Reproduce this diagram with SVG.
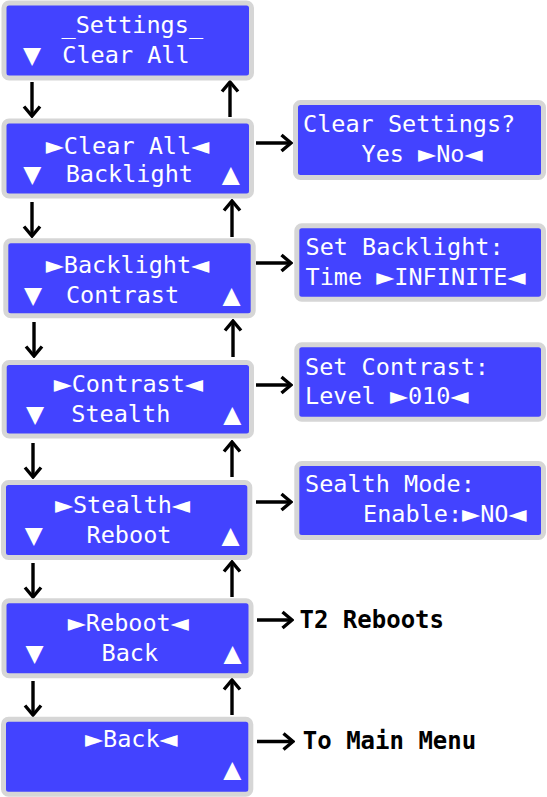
<svg xmlns="http://www.w3.org/2000/svg" width="547" height="797" viewBox="0 0 547 797">
<style>
.box{fill:#4343ff;stroke:#d6d6d6;stroke-width:5}
.lcd{font-family:"DejaVu Sans Mono","Liberation Mono",monospace;font-size:23.5px;fill:#ffffff}
.t{font-family:"DejaVu Sans","Liberation Sans",sans-serif}
.m{text-anchor:middle}
.lbl{font-family:"DejaVu Sans Mono","Liberation Mono",monospace;font-size:24px;font-weight:bold;fill:#000000}
.c{stroke:#000;stroke-width:3.4;fill:none}
</style>
<defs>
<marker id="ah" markerUnits="userSpaceOnUse" viewBox="-12 -10 14 20" refX="0" refY="0" markerWidth="14" markerHeight="20" orient="auto">
<path d="M-9.5,-8 L0,0 L-9.5,8" fill="none" stroke="#000" stroke-width="3.4"/>
</marker>
</defs>
<g id="connectors">
<line class="c" x1="32" y1="82" x2="32" y2="116" marker-end="url(#ah)"/>
<line class="c" x1="230" y1="117" x2="230" y2="82" marker-end="url(#ah)"/>
<line class="c" x1="32" y1="202" x2="32" y2="236" marker-end="url(#ah)"/>
<line class="c" x1="232" y1="237" x2="232" y2="201" marker-end="url(#ah)"/>
<line class="c" x1="34" y1="322" x2="34" y2="356" marker-end="url(#ah)"/>
<line class="c" x1="233" y1="357" x2="233" y2="321" marker-end="url(#ah)"/>
<line class="c" x1="33" y1="443" x2="33" y2="477" marker-end="url(#ah)"/>
<line class="c" x1="232" y1="477" x2="232" y2="442" marker-end="url(#ah)"/>
<line class="c" x1="33" y1="563" x2="33" y2="597" marker-end="url(#ah)"/>
<line class="c" x1="232" y1="597" x2="232" y2="562" marker-end="url(#ah)"/>
<line class="c" x1="33" y1="681" x2="33" y2="715" marker-end="url(#ah)"/>
<line class="c" x1="232" y1="715" x2="232" y2="680" marker-end="url(#ah)"/>
<line class="c" x1="256" y1="143" x2="291" y2="143" marker-end="url(#ah)"/>
<line class="c" x1="256" y1="263" x2="291" y2="263" marker-end="url(#ah)"/>
<line class="c" x1="256" y1="385" x2="291" y2="385" marker-end="url(#ah)"/>
<line class="c" x1="256" y1="502" x2="291" y2="502" marker-end="url(#ah)"/>
<line class="c" x1="257" y1="620" x2="292" y2="620" marker-end="url(#ah)"/>
<line class="c" x1="257" y1="741.5" x2="293" y2="741.5" marker-end="url(#ah)"/>
</g>
<g id="settings">
<rect class="box" x="4" y="3" width="247.5" height="75" rx="5"/>
<text class="lcd m" x="132.3" y="33">_Settings_</text>
<text class="lcd t m" x="32" y="62.5">▼</text>
<text class="lcd m" x="126" y="62.5">Clear All</text>
</g>
<g id="clear-all">
<rect class="box" x="4" y="121" width="247.5" height="75" rx="5"/>
<text class="lcd m" x="127.5" y="153.5"><tspan class="t">►</tspan>Clear All<tspan class="t">◄</tspan></text>
<text class="lcd t m" x="32.2" y="182">▼</text>
<text class="lcd m" x="129.3" y="182">Backlight</text>
<text class="lcd t m" x="230.8" y="182">▲</text>
</g>
<g id="backlight">
<rect class="box" x="5.8" y="240.8" width="247.4" height="75" rx="5"/>
<text class="lcd m" x="127.5" y="272.7"><tspan class="t">►</tspan>Backlight<tspan class="t">◄</tspan></text>
<text class="lcd t m" x="33" y="302.7">▼</text>
<text class="lcd m" x="122.5" y="302.7">Contrast</text>
<text class="lcd t m" x="231.5" y="302.7">▲</text>
</g>
<g id="contrast">
<rect class="box" x="4.2" y="362.5" width="247.3" height="73.5" rx="5"/>
<text class="lcd m" x="128.3" y="391.7"><tspan class="t">►</tspan>Contrast<tspan class="t">◄</tspan></text>
<text class="lcd t m" x="35" y="421.7">▼</text>
<text class="lcd m" x="120.8" y="421.7">Stealth</text>
<text class="lcd t m" x="232.2" y="421.7">▲</text>
</g>
<g id="stealth">
<rect class="box" x="3.5" y="482.5" width="246.3" height="75" rx="5"/>
<text class="lcd m" x="122.5" y="512.7"><tspan class="t">►</tspan>Stealth<tspan class="t">◄</tspan></text>
<text class="lcd t m" x="33.7" y="542.7">▼</text>
<text class="lcd m" x="129" y="542.7">Reboot</text>
<text class="lcd t m" x="230.5" y="542.7">▲</text>
</g>
<g id="reboot">
<rect class="box" x="4" y="600.8" width="247" height="75" rx="5"/>
<text class="lcd m" x="128.3" y="631"><tspan class="t">►</tspan>Reboot<tspan class="t">◄</tspan></text>
<text class="lcd t m" x="34.6" y="661">▼</text>
<text class="lcd m" x="129.8" y="661">Back</text>
<text class="lcd t m" x="232.6" y="661">▲</text>
</g>
<g id="back">
<rect class="box" x="3.5" y="719.2" width="247.3" height="75" rx="5"/>
<text class="lcd m" x="131.3" y="746.7"><tspan class="t">►</tspan>Back<tspan class="t">◄</tspan></text>
<text class="lcd t m" x="232.2" y="777.3">▲</text>
</g>
<g id="clear-settings">
<rect class="box" x="295.5" y="102.5" width="248" height="75" rx="5"/>
<text class="lcd" x="303" y="131.7">Clear Settings?</text>
<text class="lcd" x="361.5" y="161.7">Yes <tspan class="t">►</tspan>No<tspan class="t">◄</tspan></text>
</g>
<g id="set-backlight">
<rect class="box" x="296.8" y="225.8" width="246.7" height="73.4" rx="5"/>
<text class="lcd" x="305.5" y="255">Set Backlight:</text>
<text class="lcd" x="305.5" y="285">Time <tspan class="t">►</tspan>INFINITE<tspan class="t">◄</tspan></text>
</g>
<g id="set-contrast">
<rect class="box" x="296.8" y="344.8" width="246.7" height="74.4" rx="5"/>
<text class="lcd" x="305" y="375">Set Contrast:</text>
<text class="lcd" x="305" y="404.3">Level <tspan class="t">►</tspan>010<tspan class="t">◄</tspan></text>
</g>
<g id="stealth-mode">
<rect class="box" x="296.8" y="463.5" width="246.7" height="74" rx="5"/>
<text class="lcd" x="305" y="492.3">Sealth Mode:</text>
<text class="lcd" x="363" y="522.3">Enable:<tspan class="t">►</tspan>NO<tspan class="t">◄</tspan></text>
</g>
<g id="t2-reboots">
<text class="lbl" x="299.5" y="628.3">T2 Reboots</text>
</g>
<g id="to-main-menu">
<text class="lbl" x="302.8" y="749">To Main Menu</text>
</g>
</svg>
